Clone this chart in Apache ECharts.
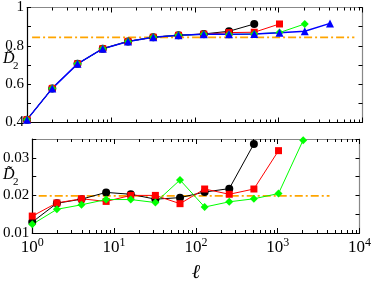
<!DOCTYPE html>
<html><head><meta charset="utf-8">
<script src="https://cdn.jsdelivr.net/npm/echarts@6/dist/echarts.min.js"></script>
<style>html,body{margin:0;padding:0;background:#fff}#c{width:374px;height:284px}</style>
</head><body><div id="c"></div>
<script>
const ells = [1, 2, 4, 8, 16, 32, 64, 128, 256, 512, 1024, 2048, 4096];
const minorTickVals = [2,3,4,5,6,7,8,9,20,30,40,50,60,70,80,90,200,300,400,500,600,700,800,900,2000,3000,4000,5000,6000,7000,8000,9000];

// top panel
const topBlack = [0.415, 0.578, 0.706, 0.785, 0.823, 0.845, 0.855, 0.862, 0.876, 0.914];
const topRed   = [0.415, 0.578, 0.706, 0.785, 0.823, 0.845, 0.855, 0.861, 0.869, 0.871, 0.914];
const topGreen = [0.415, 0.578, 0.706, 0.785, 0.823, 0.845, 0.855, 0.860, 0.859, 0.862, 0.869, 0.914];
const topBlue  = [0.415, 0.578, 0.706, 0.785, 0.823, 0.845, 0.855, 0.860, 0.860, 0.862, 0.868, 0.876, 0.917];
const topRefX = [1.15, 8000];
const topRefY = 0.844;

// bottom panel
const botBlack = [0.0129, 0.0179, 0.0190, 0.0208, 0.0203, 0.0190, 0.0194, 0.0209, 0.0218, 0.0337];
const botRed   = [0.0145, 0.0180, 0.0191, 0.0184, 0.0200, 0.0200, 0.0178, 0.0217, 0.0203, 0.0217, 0.0319];
const botGreen = [0.0123, 0.0163, 0.0175, 0.0189, 0.0189, 0.0181, 0.0241, 0.0169, 0.0183, 0.0191, 0.0205, 0.0347];
const botRefX = [1.2, 4300];
const botRefY = 0.0199;

const SERIF = '"Liberation Serif","DejaVu Serif",serif';
const pairs = arr => arr.map((v, i) => [ells[i], v]);

function xAxisDef(grid, pos, showLabel) {
  return {
    type: 'log', logBase: 10, gridIndex: grid, position: pos, min: 1, max: 10000,
    axisLine: {show: true, lineStyle: {color: pos === 'bottom' ? '#000' : '#888', width: 1.2}},
    axisTick: {show: true, inside: true, length: 5, lineStyle: {color: '#000'}},
    axisLabel: {
      show: showLabel, margin: 4, fontFamily: SERIF, fontSize: 17, color: '#000',
      formatter: v => '{a|10}{b|' + Math.round(Math.log10(v)) + '}',
      rich: {a: {fontSize: 17, fontFamily: SERIF, color: '#000'},
             b: {fontSize: 12, fontFamily: SERIF, color: '#000', verticalAlign: 'top', padding: [0, 0, 9, 0]}}
    },
    splitLine: {show: false}, minorTick: {show: false},
    name: (showLabel ? 'ℓ' : ''), nameLocation: 'middle', nameGap: 30,
    nameTextStyle: {fontFamily: SERIF, fontStyle: 'italic', fontSize: 20, color: '#000'}
  };
}
function yAxisDef(grid, pos, min, max, interval, showLabel) {
  return {
    type: 'value', gridIndex: grid, position: pos, min: min, max: max, interval: interval,
    axisLine: {show: true, lineStyle: {color: pos === 'left' ? '#000' : '#888', width: 1.2}},
    axisTick: {show: true, inside: true, length: 4, lineStyle: {color: '#000'}},
    minorTick: {show: true, splitNumber: 2, length: 4, lineStyle: {color: '#000'}},
    axisLabel: {show: showLabel, margin: 3, fontFamily: SERIF, fontSize: 15, color: '#000',
      showMaxLabel: grid === 0, showMinLabel: true},
    splitLine: {show: false}
  };
}
function minorTicks(params, api) {
  const x = Math.round(api.coord([api.value(0), api.value(1)])[0]) + 0.5;
  const cs = params.coordSys;
  return {type: 'group', children: [
    {type: 'line', shape: {x1: x, y1: cs.y + cs.height, x2: x, y2: cs.y + cs.height - 3}, style: {stroke: '#000', lineWidth: 1}},
    {type: 'line', shape: {x1: x, y1: cs.y, x2: x, y2: cs.y + 3}, style: {stroke: '#000', lineWidth: 1}}
  ]};
}
function lineSeries(x, y, data, color, symbol, size, width) {
  return {type: 'line', xAxisIndex: x, yAxisIndex: y, data: data, symbol: symbol, symbolSize: size,
    lineStyle: {color: color, width: width}, itemStyle: {color: color}, animation: false, z: 3};
}
function refSeries(x, y, xs, yv) {
  return {type: 'line', xAxisIndex: x, yAxisIndex: y, data: xs.map(v => [v, yv]), symbol: 'none',
    lineStyle: {color: '#ffa500', width: 1.8, type: [8, 3, 2, 3]}, animation: false, z: 2};
}

const chart = echarts.init(document.getElementById('c'), null, {renderer: 'canvas'});
chart.setOption({
  backgroundColor: '#fff',
  animation: false,
  grid: [
    {left: 27, top: 5, width: 335.5, height: 117.5},
    {left: 27, top: 139, width: 335.5, height: 99}
  ],
  xAxis: [xAxisDef(0, 'bottom', false), xAxisDef(0, 'top', false), xAxisDef(1, 'bottom', true), xAxisDef(1, 'top', false)],
  yAxis: [yAxisDef(0, 'left', 0.4, 1, 0.2, true), yAxisDef(0, 'right', 0.4, 1, 0.2, false),
          yAxisDef(1, 'left', 0.01, 0.035, 0.01, true), yAxisDef(1, 'right', 0.01, 0.035, 0.01, false)],
  graphic: [
    {type: 'text', left: 3, top: 51, style: {text: 'D\u0303', font: 'italic 16px ' + SERIF, fill: '#000'}},
    {type: 'text', left: 13, top: 61, style: {text: '2', font: '11px ' + SERIF, fill: '#000'}},
    {type: 'text', left: 3, top: 167, style: {text: 'D\u0303', font: 'italic 16px ' + SERIF, fill: '#000'}},
    {type: 'text', left: 13, top: 177, style: {text: '2', font: '11px ' + SERIF, fill: '#000'}}
  ],
  series: [
    {type: 'custom', xAxisIndex: 0, yAxisIndex: 0, data: minorTickVals.map(v => [v, 0.4]), renderItem: minorTicks, silent: true, z: 1},
    {type: 'custom', xAxisIndex: 2, yAxisIndex: 2, data: minorTickVals.map(v => [v, 0.01]), renderItem: minorTicks, silent: true, z: 1},
    refSeries(0, 0, topRefX, topRefY),
    lineSeries(0, 0, pairs(topBlack), '#000000', 'circle', 8, 1),
    lineSeries(0, 0, pairs(topRed), '#ff0000', 'rect', 7, 1),
    lineSeries(0, 0, pairs(topGreen), '#00ff00', 'diamond', 8, 1),
    lineSeries(0, 0, pairs(topBlue), '#0000ff', 'triangle', 8, 1.5),
    refSeries(2, 2, botRefX, botRefY),
    lineSeries(2, 2, pairs(botBlack), '#000000', 'circle', 8, 1),
    lineSeries(2, 2, pairs(botRed), '#ff0000', 'rect', 7, 1),
    lineSeries(2, 2, pairs(botGreen), '#00ff00', 'diamond', 8, 1)
  ]
});
</script></body></html>
